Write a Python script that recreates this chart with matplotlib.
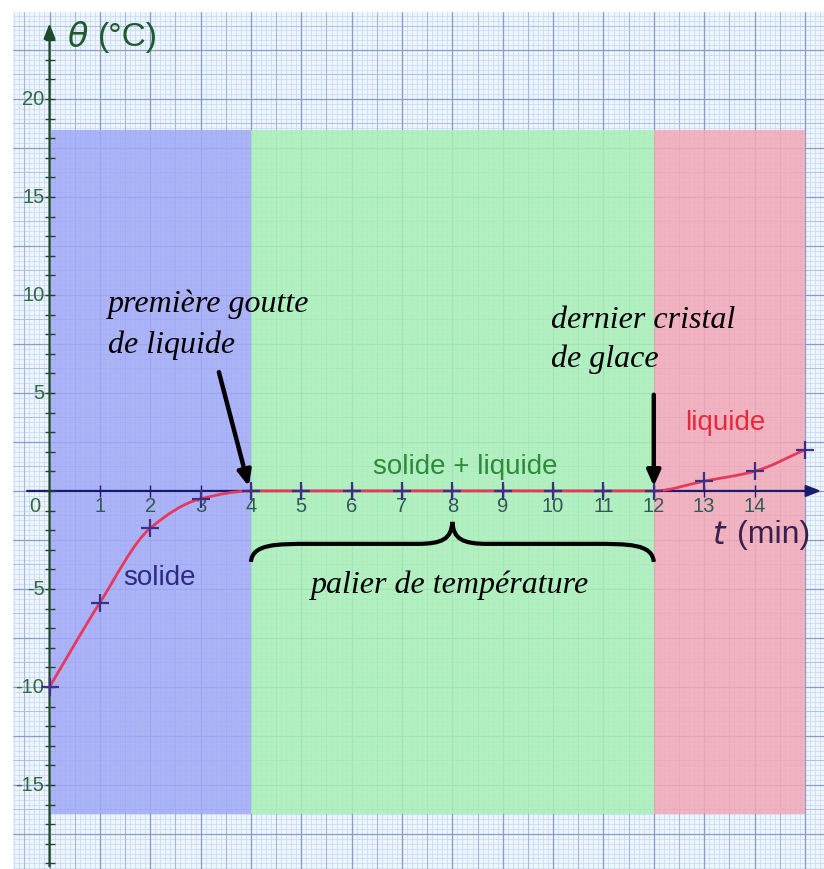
import matplotlib
matplotlib.use("Agg")
import matplotlib.pyplot as plt
import numpy as np
from matplotlib.path import Path
from matplotlib.patches import PathPatch

# measured points: time (min) and temperature (°C)
t = [0, 1, 2, 3, 4, 5, 6, 7, 8, 9, 10, 11, 12, 13, 14, 15]
theta = [-10, -5.7, -1.9, -0.4, 0, 0, 0, 0, 0, 0, 0, 0, 0, 0.5, 1.0, 2.1]

# phases: (start, end, colour)
phases_start = [0, 4, 12]
phases_end = [4, 12, 15]
phase_colors = ["#a1a8f6", "#a8f0b6", "#f2a8b5"]
phase_ylow, phase_yhigh = -16.5, 18.4

x_ticks = list(range(1, 15))
y_ticks = [20, 15, 10, 5, -5, -10, -15]

SERIF = ["Liberation Serif", "DejaVu Serif"]
SANS = ["Liberation Sans", "DejaVu Sans"]


def smooth_path(x, y):
    # monotone cubic (Fritsch-Carlson) tangents, drawn as Bezier segments
    x = np.asarray(x, float)
    y = np.asarray(y, float)
    h = np.diff(x)
    d = np.diff(y) / h
    m = np.zeros_like(y)
    m[0], m[-1] = d[0], d[-1]
    for i in range(1, len(y) - 1):
        if d[i - 1] * d[i] <= 0:
            m[i] = 0
        else:
            m[i] = 2 / (1 / d[i - 1] + 1 / d[i])
    verts = [(x[0], y[0])]
    codes = [Path.MOVETO]
    for i in range(len(x) - 1):
        verts += [(x[i] + h[i] / 3, y[i] + m[i] * h[i] / 3),
                  (x[i + 1] - h[i] / 3, y[i + 1] - m[i + 1] * h[i] / 3),
                  (x[i + 1], y[i + 1])]
        codes += [Path.CURVE4] * 3
    return Path(verts, codes)


fig = plt.figure(figsize=(8.24, 8.70), dpi=100)
ax = fig.add_axes([12 / 824, 0, 812 / 824, 858 / 870])
ax.set_xlim(-0.745, 15.38)
ax.set_ylim(-19.29, 24.49)
ax.axis("off")
ax.add_patch(plt.Rectangle((-0.745, -19.29), 16.2, 44, color="#eef5fe", zorder=0))

# graph paper
for v in np.arange(-0.7, 15.4, 0.1):
    ax.axvline(v, color="#c8dcf4", lw=0.6, zorder=1)
for v in np.arange(-19.25, 24.5, 0.25):
    ax.axhline(v, color="#c8dcf4", lw=0.6, zorder=1)
for v in np.arange(-0.5, 15.4, 0.5):
    ax.axvline(v, color="#a6b8de", lw=0.8, zorder=1.1)
for v in np.arange(-17.5, 24.5, 1.25):
    ax.axhline(v, color="#adbfe3", lw=0.7, zorder=1.1)
for v in np.arange(0, 15.4, 1):
    ax.axvline(v, color="#8c9bc6", lw=0.9, zorder=1.2)
for v in np.arange(-17.5, 24.5, 2.5):
    ax.axhline(v, color="#8c9bc6", lw=0.9, zorder=1.2)

# coloured phases (grid shows through)
for x0, x1, c in zip(phases_start, phases_end, phase_colors):
    ax.add_patch(plt.Rectangle((x0, phase_ylow), x1 - x0, phase_yhigh - phase_ylow,
                               facecolor=c, edgecolor="none", alpha=0.85, zorder=1.5))

# axes with arrows
ax.annotate("", xy=(15.38, 0), xytext=(-0.5, 0),
            arrowprops=dict(arrowstyle="-|>,head_length=0.9,head_width=0.35",
                            color="#1c1c6e", lw=1.6), zorder=3)
ax.annotate("", xy=(0, 24.0), xytext=(0, -19.3),
            arrowprops=dict(arrowstyle="-|>,head_length=0.9,head_width=0.35",
                            color="#1d4a28", lw=1.6), zorder=3)
ax.plot(x_ticks, [0] * len(x_ticks), ls="none", marker="|", ms=8, mew=1,
        color="#1c1c6e", zorder=3)
ax.plot([0] * 43, np.arange(-19, 24), ls="none", marker="_", ms=7, mew=1,
        color="#1d4a28", zorder=3)

# tick labels
for xv in x_ticks:
    ax.text(xv, -0.75, str(xv), ha="center", va="center", fontsize=14.5,
            color="#2f5a55", family=SANS, zorder=4)
for yv in y_ticks:
    ax.text(-0.1, yv, str(yv), ha="right", va="center", fontsize=14.5,
            color="#2f6a3c", family=SANS, zorder=4)
ax.text(-0.3, -0.75, "0", ha="center", va="center", fontsize=14.5,
        color="#2f6a3c", family=SANS, zorder=4)

# curve and measurement crosses
ax.add_patch(PathPatch(smooth_path(t, theta), facecolor="none",
                       edgecolor="#e8385c", lw=2, zorder=4))
ax.plot(t, theta, ls="none", marker="+", ms=13, mew=1.6, color="#3b2f86", zorder=5)

# axis titles
ax.text(0.35, 23.2, r"$\theta$", fontsize=24, color="#1d5a2c", va="center", zorder=6)
ax.text(0.96, 23.2, "(°C)", fontsize=24, color="#1d5a2c", va="center",
        family=SANS, zorder=6)
ax.text(13.16, -2.2, r"$t$", fontsize=23, color="#3a1f4f", va="center", zorder=6)
ax.text(13.66, -2.2, "(min)", fontsize=23, color="#3a1f4f", va="center",
        family=SANS, zorder=6)

# phase names
ax.text(2.19, -4.4, "solide", fontsize=20, color="#2b2b80", ha="center",
        va="center", family=SANS, zorder=6)
ax.text(8.25, 1.28, "solide + liquide", fontsize=20, color="#2e8a3c", ha="center",
        va="center", family=SANS, zorder=6)
ax.text(13.41, 3.52, "liquide", fontsize=20, color="#e8283c", ha="center",
        va="center", family=SANS, zorder=6)

# annotations
ann = dict(fontsize=23, style="italic", family=SERIF, color="black",
           va="baseline", zorder=6)
ax.text(1.16, 9.18, "première goutte", **ann)
ax.text(1.16, 7.09, "de liquide", **ann)
ax.text(9.96, 8.37, "dernier cristal", **ann)
ax.text(9.96, 6.38, "de glace", **ann)
ax.text(7.96, -5.15, "palier de température", ha="center", **ann)

arrow = dict(arrowstyle="-|>,head_length=0.9,head_width=0.4", color="black", lw=3.2)
ax.annotate("", xy=(3.97, 0.1), xytext=(3.35, 6.2), arrowprops=arrow, zorder=7)
ax.annotate("", xy=(12.0, 0.1), xytext=(12.0, 5.05), arrowprops=arrow, zorder=7)

# curly brace over the plateau
ye, yl, yp = -3.62, -2.7, -1.58
brace = Path(
    [(4, ye), (4.03, yl), (4.5, yl), (5.2, yl),
     (7.3, yl),
     (7.8, yl), (7.98, -2.45), (8, yp),
     (8.02, -2.45), (8.2, yl), (8.7, yl),
     (10.8, yl),
     (11.5, yl), (11.97, yl), (12, ye)],
    [Path.MOVETO, Path.CURVE4, Path.CURVE4, Path.CURVE4,
     Path.LINETO,
     Path.CURVE4, Path.CURVE4, Path.CURVE4,
     Path.CURVE4, Path.CURVE4, Path.CURVE4,
     Path.LINETO,
     Path.CURVE4, Path.CURVE4, Path.CURVE4])
ax.add_patch(PathPatch(brace, facecolor="none", edgecolor="black", lw=3, zorder=6))

# white margin at the paper edge
fig.patches.append(plt.Rectangle((0, 0), 12 / 824, 1, transform=fig.transFigure,
                                 color="white", zorder=10))
fig.patches.append(plt.Rectangle((0, 858 / 870), 1, 12 / 870, transform=fig.transFigure,
                                 color="white", zorder=10))

fig.savefig("out.png", dpi=100)
